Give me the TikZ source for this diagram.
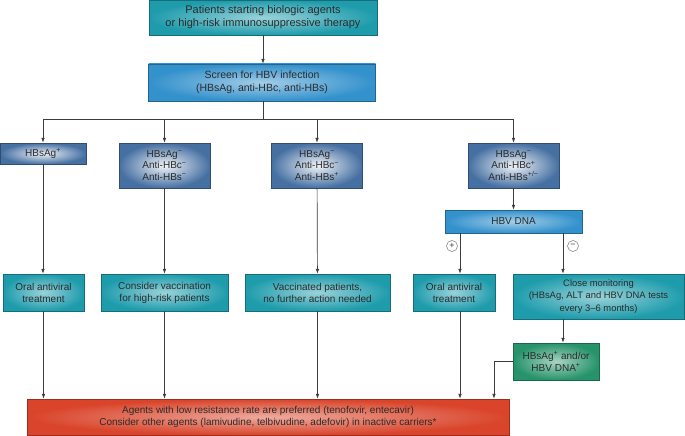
\documentclass[tikz,border=0pt]{standalone}
\usepackage{fontspec}
\setmainfont{Liberation Sans}
\usetikzlibrary{arrows.meta}

\definecolor{txt}{HTML}{2B2B2B}
\definecolor{ln}{HTML}{3C3C3C}
\tikzset{
  box/.style={draw=#1!70!black, line width=0.4pt, shading=radial, outer color=#1, align=center, inner sep=1pt, font=\fontsize{10}{12}\selectfont, text=txt},
  tealbox/.style={box=tealc, inner color=tealc!45!white},
  bluebox/.style={box=bluec, inner color=bluec!45!white},
  steelbox/.style={box=steelc, inner color=steelc!8!white, font=\fontsize{10}{11.5}\selectfont},
  greenbox/.style={box=greenc, inner color=greenc!40!white},
  redbox/.style={box=redc, inner color=redc!45!white, font=\fontsize{10}{11.7}\selectfont},
  conn/.style={draw=ln, line width=0.7pt},
  arr/.style={conn, -{Latex[length=5pt, width=3.6pt]}},
  sign/.style={circle, draw=ln!70, fill=white, line width=0.5pt, inner sep=0pt, minimum size=11pt, font=\fontsize{9}{9}\selectfont, text=ln}
}
\definecolor{tealc}{HTML}{1F9CAC}
\definecolor{bluec}{HTML}{3391CC}
\definecolor{steelc}{HTML}{4670A2}
\definecolor{greenc}{HTML}{26936A}
\definecolor{redc}{HTML}{D9442A}

\begin{document}
\begin{tikzpicture}[x=1pt, y=-1pt]
  \useasboundingbox (0,0) rectangle (685,436);
  \node[tealbox, minimum width=228pt, minimum height=35pt, font=\fontsize{11}{12.7}\selectfont] (start) at (263,17.5) {Patients starting biologic agents\\or high-risk immunosuppressive therapy};
  \node[bluebox, minimum width=227pt, minimum height=37pt, font=\fontsize{10.5}{12.5}\selectfont] (screen) at (262,82.5) {Screen for HBV infection\\(HBsAg, anti-HBc, anti-HBs)};
  \node[steelbox, minimum width=86pt, minimum height=21pt] (hbsag) at (43,153.5) {HBsAg\textsuperscript{+}};
  \node[steelbox, minimum width=91pt, minimum height=45pt] (naive) at (164.5,165.5) {HBsAg\textsuperscript{−}\\Anti-HBc\textsuperscript{−}\\Anti-HBs\textsuperscript{−}};
  \node[steelbox, minimum width=91pt, minimum height=45pt] (immune) at (317,165.5) {HBsAg\textsuperscript{−}\\Anti-HBc\textsuperscript{−}\\Anti-HBs\textsuperscript{+}};
  \node[steelbox, minimum width=91pt, minimum height=45pt] (resolved) at (513.5,165.5) {HBsAg\textsuperscript{−}\\Anti-HBc\textsuperscript{+}\\Anti-HBs\textsuperscript{+/−}};
  \node[bluebox, minimum width=137pt, minimum height=23pt] (dna) at (513.5,221.5) {HBV DNA};
  \node[tealbox, minimum width=81pt, minimum height=37pt] (oral) at (43.5,292.5) {Oral antiviral\\treatment};
  \node[tealbox, minimum width=127pt, minimum height=37pt] (vacc) at (164.5,292.5) {Consider vaccination\\for high-risk patients};
  \node[tealbox, minimum width=145pt, minimum height=37pt] (noaction) at (317.5,292.5) {Vaccinated patients,\\no further action needed};
  \node[tealbox, minimum width=82pt, minimum height=37pt] (oraldna) at (454,292.5) {Oral antiviral\\treatment};
  \node[tealbox, minimum width=171pt, minimum height=45pt, font=\fontsize{9.4}{12.3}\selectfont] (monitor) at (598.5,296.5) {Close monitoring\\(HBsAg, ALT and HBV DNA tests\\every 3–6 months)};
  \node[greenbox, minimum width=86pt, minimum height=37pt] (reactiv) at (556,361.5) {HBsAg\textsuperscript{+} and/or\\HBV DNA\textsuperscript{+}};
  \node[redbox, minimum width=482pt, minimum height=36pt] (agents) at (268,417) {Agents with low resistance rate are preferred (tenofovir, entecavir)\\Consider other agents (lamivudine, telbivudine, adefovir) in inactive carriers*};

  \coordinate (bus) at (263,119);
  \coordinate (posx) at (460,0);
  \coordinate (negx) at (563,0);
  \coordinate (elbow) at (494,361.5);
  \draw[arr] (start) -- (start.south |- screen.north);
  \draw[conn] (screen.south -| bus) -- (bus);
  \draw[conn] (bus -| hbsag) -- (bus -| resolved);
  \foreach \n in {hbsag, naive, immune, resolved}
    \draw[arr] (bus -| \n) -- (\n.north);
  \draw[arr] (hbsag.south) -- (hbsag.south |- oral.north);
  \draw[arr] (naive) -- (vacc);
  \draw[arr] (immune) -- (noaction);
  \draw[arr] (resolved) -- (dna);
  \draw[arr] (dna.south -| posx) -- (oraldna.north -| posx);
  \draw[arr] (dna.south -| negx) -- (monitor.north -| negx);
  \draw[arr] (monitor.south -| negx) -- (reactiv.north -| negx);
  \node[sign] (plus) at (452,246) {+};
  \node[sign] (minus) at (573,246) {−};
  \foreach \n in {oral, vacc, noaction}
    \draw[arr] (\n.south) -- (\n.south |- agents.north);
  \draw[arr] (oraldna.south -| posx) -- (agents.north -| posx);
  \draw[arr] (reactiv.west) -- (elbow) -- (elbow |- agents.north);
\end{tikzpicture}
\end{document}
